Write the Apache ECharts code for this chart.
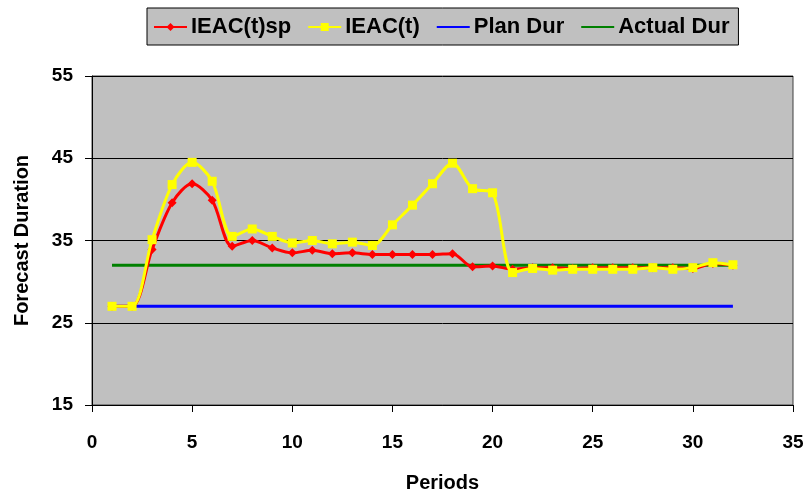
<!DOCTYPE html>
<html>
<head>
<meta charset="utf-8">
<script src="https://cdn.jsdelivr.net/npm/echarts@6/dist/echarts.min.js"></script>
<style>html,body{margin:0;padding:0;background:#fff}#c{width:809px;height:494px}</style>
</head>
<body>
<div id="c"></div>
<script>
const periods = [1,2,3,4,5,6,7,8,9,10,11,12,13,14,15,16,17,18,19,20,21,22,23,24,25,26,27,28,29,30,31,32];
const ieacTsp = [27,27,33.9,39.6,41.9,39.9,34.3,35.0,34.1,33.5,33.8,33.4,33.5,33.3,33.3,33.3,33.3,33.4,31.8,31.9,31.5,31.7,31.7,31.6,31.7,31.7,31.7,31.7,31.7,31.6,32.2,32.0];
const ieacT = [27,27,35.1,41.8,44.5,42.2,35.5,36.4,35.5,34.7,35.0,34.6,34.8,34.4,36.9,39.3,41.9,44.4,41.3,40.8,31.1,31.6,31.4,31.5,31.5,31.5,31.5,31.7,31.5,31.7,32.3,32.05];
const planDur = [27,27,27,27,27,27,27,27,27,27,27,27,27,27,27,27,27,27,27,27,27,27,27,27,27,27,27,27,27,27,27,27];
const actualDur = [32,32,32,32,32,32,32,32,32,32,32,32,32,32,32,32,32,32,32,32,32,32,32,32,32,32,32,32,32,32,32,32];
const seriesNames = ['IEAC(t)sp','IEAC(t)','Plan Dur','Actual Dur'];

const pairs = vals => periods.map((p,i)=>[p, vals[i]]);
const font = 'Arial, "Liberation Sans", sans-serif';

const chart = echarts.init(document.getElementById('c'));
chart.setOption({
  animation: false,
  backgroundColor: '#fff',
  grid: {left: 92, top: 76, right: 16, bottom: 89, outerBoundsMode: 'none', containLabel: false,
         show: true, backgroundColor: '#C0C0C0', borderColor: '#404040', borderWidth: 1},
  legend: {
    top: 8, left: 147,
    backgroundColor: '#C0C0C0', borderColor: '#000', borderWidth: 1,
    padding: [8, 9, 7, 6],
    itemWidth: 33, itemHeight: 10, itemGap: 16,
    textStyle: {fontFamily: font, fontWeight: 'bold', fontSize: 22, color: '#000', padding: [0, 0, 0, -1]},
    data: [
      {name: seriesNames[0]},
      {name: seriesNames[1]},
      {name: seriesNames[2], itemStyle: {opacity: 0}},
      {name: seriesNames[3], itemStyle: {opacity: 0}}
    ]
  },
  xAxis: {
    type: 'value', min: 0, max: 35, interval: 5,
    name: 'Periods', nameLocation: 'middle', nameGap: 68,
    nameTextStyle: {fontFamily: font, fontWeight: 'bold', fontSize: 20, color: '#000'},
    axisLine: {show: true, lineStyle: {color: '#000', width: 1}},
    axisTick: {show: true, length: 7, lineStyle: {color: '#000'}},
    axisLabel: {fontFamily: font, fontWeight: 'bold', fontSize: 19, color: '#000', margin: 28},
    splitLine: {show: false}
  },
  yAxis: {
    type: 'value', min: 15, max: 55, interval: 10,
    name: 'Forecast Duration', nameLocation: 'middle', nameGap: 60,
    nameTextStyle: {fontFamily: font, fontWeight: 'bold', fontSize: 20, color: '#000'},
    axisLine: {show: true, lineStyle: {color: '#000', width: 1}},
    axisTick: {show: true, length: 7, lineStyle: {color: '#000'}},
    axisLabel: {fontFamily: font, fontWeight: 'bold', fontSize: 19, color: '#000', margin: 19},
    splitLine: {show: true, lineStyle: {color: '#000', width: 1}}
  },
  series: [
    {name: seriesNames[0], type: 'line', data: pairs(ieacTsp), smooth: 0.3, z: 4,
     symbol: 'diamond', symbolSize: 9,
     lineStyle: {color: '#FF0000', width: 3}, itemStyle: {color: '#FF0000'}},
    {name: seriesNames[1], type: 'line', data: pairs(ieacT), smooth: 0.3, z: 5,
     symbol: 'rect', symbolSize: 9,
     lineStyle: {color: '#FFFF00', width: 3}, itemStyle: {color: '#FFFF00'}},
    {name: seriesNames[2], type: 'line', data: pairs(planDur), symbol: 'none', z: 2,
     lineStyle: {color: '#0000FF', width: 3}, itemStyle: {color: '#0000FF'}},
    {name: seriesNames[3], type: 'line', data: pairs(actualDur), symbol: 'none', z: 3,
     lineStyle: {color: '#008000', width: 3}, itemStyle: {color: '#008000'}}
  ]
});
</script>
</body>
</html>
